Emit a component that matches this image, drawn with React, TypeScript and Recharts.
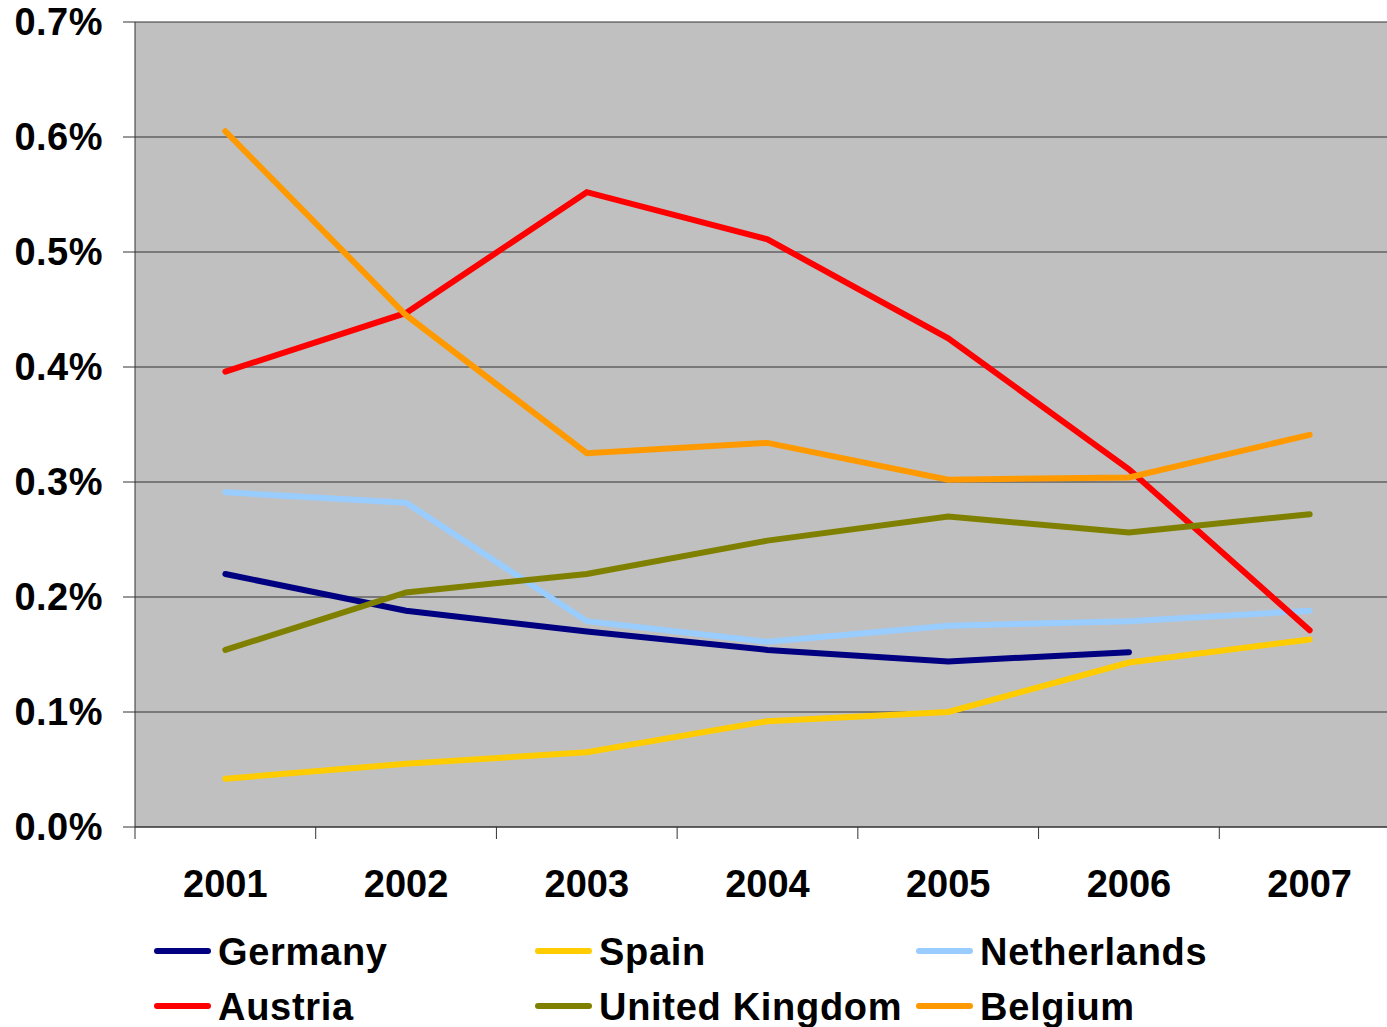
import React from 'react';
import { LineChart, Line, XAxis, YAxis, CartesianGrid, Legend } from 'recharts';

const years = ['2001', '2002', '2003', '2004', '2005', '2006', '2007'];
const germany = [0.220, 0.188, 0.170, 0.154, 0.144, 0.152, null];
const spain = [0.042, 0.055, 0.065, 0.092, 0.100, 0.143, 0.163];
const netherlands = [0.291, 0.282, 0.179, 0.161, 0.175, 0.179, 0.188];
const austria = [0.396, 0.447, 0.552, 0.511, 0.425, 0.311, 0.171];
const unitedKingdom = [0.154, 0.204, 0.220, 0.249, 0.270, 0.256, 0.272];
const belgium = [0.605, 0.445, 0.325, 0.334, 0.302, 0.304, 0.341];
const yTicks = [0, 0.1, 0.2, 0.3, 0.4, 0.5, 0.6, 0.7];

const series = [
  { key: 'Germany', values: germany, color: '#000080' },
  { key: 'Spain', values: spain, color: '#FFCC00' },
  { key: 'Netherlands', values: netherlands, color: '#99CCFF' },
  { key: 'Austria', values: austria, color: '#FF0000' },
  { key: 'United Kingdom', values: unitedKingdom, color: '#808000' },
  { key: 'Belgium', values: belgium, color: '#FF9900' },
];

const data = years.map((y, i) => {
  const row: Record<string, any> = { year: y };
  series.forEach((s) => {
    row[s.key] = s.values[i];
  });
  return row;
});

const FONT = '"Liberation Sans", Arial, sans-serif';
const CHART_W = 1400;
const CHART_H = 1027;
const Y_W = 135;
const TOP = 22;
const PLOT_H = 805;
const AXIS_Y = TOP + PLOT_H;
const BW = (CHART_W - Y_W) / years.length;
const LEGEND_TOP = 918;
const AXIS_COLOR = '#333333';

const XTick = (props: any) => {
  const { x, payload, index } = props;
  return (
    <g>
      <line x1={x - BW / 2} x2={x - BW / 2} y1={AXIS_Y} y2={AXIS_Y + 12} stroke={AXIS_COLOR} strokeWidth={1} />
      {index === years.length - 1 && (
        <line x1={x + BW / 2} x2={x + BW / 2} y1={AXIS_Y} y2={AXIS_Y + 12} stroke={AXIS_COLOR} strokeWidth={1} />
      )}
      <text x={x} y={897} textAnchor="middle" fontFamily={FONT} fontWeight="bold" fontSize={38} fill="#000">
        {payload.value}
      </text>
    </g>
  );
};

const renderLegend = () => (
  <svg width={1387} height={109} style={{ display: 'block' }}>
    {series.map((s, i) => {
      const col = i % 3;
      const row = Math.floor(i / 3);
      const lx = 157 + col * 381;
      const ly = 951 + row * 55 - LEGEND_TOP;
      return (
        <g key={s.key}>
          <line x1={lx} x2={lx + 51} y1={ly} y2={ly} stroke={s.color} strokeWidth={6} strokeLinecap="round" />
          <text
            x={lx + 61}
            y={965 + row * 55 - LEGEND_TOP}
            fontFamily={FONT}
            fontWeight="bold"
            fontSize={38}
            letterSpacing={0.7}
            fill="#000"
          >
            {s.key}
          </text>
        </g>
      );
    })}
  </svg>
);

export default function App() {
  return (
    <div style={{ position: 'absolute', left: 0, top: 0, width: 1387, height: 1027, overflow: 'hidden', background: '#fff' }}>
      <LineChart
        width={CHART_W}
        height={CHART_H}
        data={data}
        margin={{ top: TOP, right: 0, left: 0, bottom: CHART_H - AXIS_Y - 80 }}
      >
        <CartesianGrid vertical={false} horizontal={true} stroke={AXIS_COLOR} strokeWidth={1} fill="#C0C0C0" fillOpacity={1} />
        <XAxis
          dataKey="year"
          scale="band"
          height={80}
          axisLine={{ stroke: AXIS_COLOR, strokeWidth: 1 }}
          tickLine={false}
          tick={<XTick />}
          interval={0}
        />
        <YAxis
          width={Y_W}
          domain={[0, 0.7]}
          ticks={yTicks}
          tickFormatter={(v: number) => v.toFixed(1) + '%'}
          axisLine={{ stroke: AXIS_COLOR, strokeWidth: 1 }}
          tickLine={{ stroke: AXIS_COLOR, strokeWidth: 1 }}
          tickSize={12}
          tickMargin={20}
          tick={{ fontFamily: FONT, fontWeight: 'bold', fontSize: 38, fill: '#000', letterSpacing: 0.5 }}
          allowDataOverflow={true}
        />
        {series.map((s) => (
          <Line
            key={s.key}
            dataKey={s.key}
            type="linear"
            stroke={s.color}
            strokeWidth={6}
            strokeLinecap="round"
            strokeLinejoin="miter"
            dot={false}
            activeDot={false}
            connectNulls={false}
            isAnimationActive={false}
          />
        ))}
        <Legend
          layout="horizontal"
          verticalAlign="middle"
          align="center"
          content={renderLegend}
          wrapperStyle={{ left: 0, top: LEGEND_TOP, width: 1387, height: 109 }}
        />
      </LineChart>
    </div>
  );
}
